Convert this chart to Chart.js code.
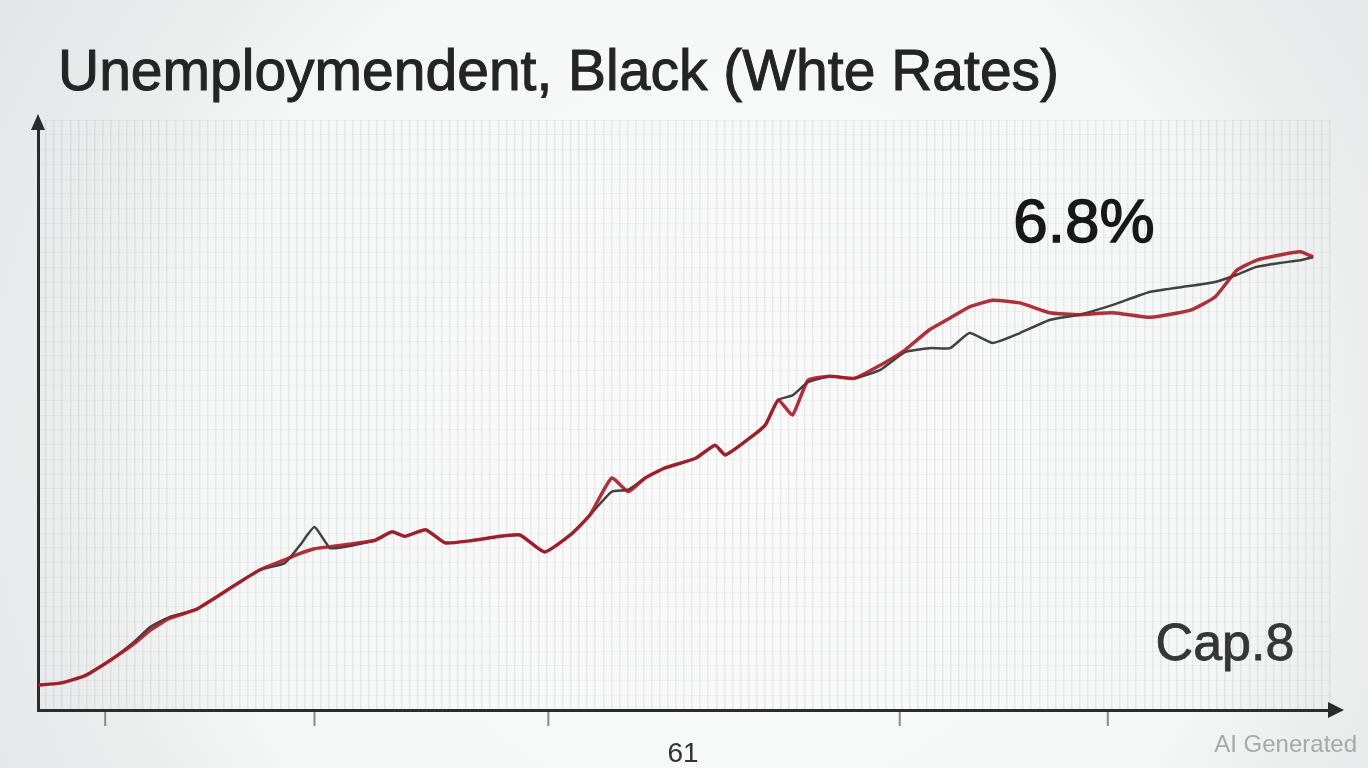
<!DOCTYPE html>
<html>
<head>
<meta charset="utf-8">
<title>Unemployment chart</title>
<script src="https://cdn.jsdelivr.net/npm/chart.js@4.4.1/dist/chart.umd.min.js"></script>
<style>
  html, body { margin: 0; padding: 0; background: #eef0f0; }
  #wrap { width: 1368px; height: 768px; position: relative; }
</style>
</head>
<body>
<div id="wrap"><canvas id="chart" width="1368" height="768"></canvas></div>
<script>
// data (x = period index, y = rate %)
const periods = [0, 1.7, 3.6, 5.6, 7.5, 8.7, 10.2, 12.2, 13.7, 15.6, 17.2, 19.1, 20.3, 21.4, 22.6,
  23.8, 26.1, 27.4, 28.4, 30.0, 31.5, 33.4, 35.4, 37.3, 39.2, 41.2, 42.7, 44.4, 45.7, 47.0,
  48.5, 50.9, 52.4, 53.2, 55.1, 56.3, 57.3, 58.4, 59.6, 61.3, 63.2, 65.2, 67.1, 69.0, 70.6,
  72.1, 73.9, 76.0, 78.3, 80.6, 83.2, 86.1, 89.2, 91.1, 92.8, 94.3, 96.1, 97.7, 98.7];

const redRates = [0.38, 0.41, 0.52, 0.76, 1.02, 1.22, 1.40, 1.53, 1.71, 1.95, 2.14, 2.29, 2.39, 2.46, 2.49,
  2.52, 2.59, 2.72, 2.65, 2.75, 2.55, 2.58, 2.64, 2.67, 2.41, 2.67, 2.97, 3.54, 3.33, 3.54,
  3.69, 3.84, 4.04, 3.89, 4.15, 4.35, 4.73, 4.50, 5.03, 5.09, 5.06, 5.26, 5.49, 5.80, 5.98,
  6.15, 6.25, 6.21, 6.06, 6.03, 6.06, 5.99, 6.10, 6.30, 6.71, 6.86, 6.94, 6.99, 6.91];

const darkRates = [0.38, 0.41, 0.52, 0.76, 1.05, 1.27, 1.42, 1.53, 1.71, 1.95, 2.14, 2.24, 2.52, 2.79, 2.47,
  2.49, 2.59, 2.72, 2.65, 2.75, 2.55, 2.58, 2.64, 2.67, 2.41, 2.67, 2.97, 3.33, 3.36, 3.54,
  3.69, 3.84, 4.04, 3.89, 4.15, 4.35, 4.73, 4.80, 5.00, 5.09, 5.06, 5.19, 5.46, 5.52, 5.52,
  5.75, 5.60, 5.75, 5.95, 6.03, 6.18, 6.38, 6.47, 6.53, 6.64, 6.76, 6.82, 6.86, 6.91];

const tickMarks = [5.2, 21.4, 39.5, 66.7, 82.8];
const titleText = 'Unemploymendent, Black (Whte Rates)';
const peakLabel = '6.8%';
const cornerLabel = 'Cap.8';
const axisLabel = '61';

const toPoints = (ys) => periods.map((x, i) => ({ x: x, y: ys[i] }));

// fill + thin outline so the text looks a bit heavier, like the original
function heavyText(ctx, text, x, y, weight) {
  ctx.fillText(text, x, y);
  ctx.lineWidth = weight;
  ctx.strokeStyle = ctx.fillStyle;
  ctx.strokeText(text, x, y);
}

// background, axes arrows and loose text
const decorations = {
  id: 'decorations',
  beforeDraw(chart) {
    const ctx = chart.ctx;
    ctx.save();
    ctx.fillStyle = '#e4e7e7';
    ctx.fillRect(0, 0, chart.width, chart.height);
    const g = ctx.createRadialGradient(720, 440, 60, 720, 440, 860);
    g.addColorStop(0, 'rgba(250,250,250,1)');
    g.addColorStop(0.6, 'rgba(245,246,246,1)');
    g.addColorStop(1, 'rgba(232,235,235,0)');
    ctx.fillStyle = g;
    ctx.fillRect(0, 0, chart.width, chart.height);
    ctx.restore();
  },
  afterDraw(chart) {
    const ctx = chart.ctx;
    const area = chart.chartArea;
    const xs = chart.scales.x;
    ctx.save();
    ctx.fillStyle = '#2b2b2b';
    ctx.strokeStyle = '#2b2b2b';
    ctx.lineWidth = 3;

    // x axis extension + arrow
    ctx.beginPath();
    ctx.moveTo(area.right, area.bottom);
    ctx.lineTo(area.right + 6, area.bottom);
    ctx.stroke();
    ctx.beginPath();
    ctx.moveTo(area.right + 14, area.bottom);
    ctx.lineTo(area.right - 2, area.bottom - 8);
    ctx.lineTo(area.right - 2, area.bottom + 8);
    ctx.closePath();
    ctx.fill();

    // y axis arrow
    ctx.beginPath();
    ctx.moveTo(area.left, area.top - 6);
    ctx.lineTo(area.left - 7, area.top + 10);
    ctx.lineTo(area.left + 7, area.top + 10);
    ctx.closePath();
    ctx.fill();

    // little tick stems under the x axis
    ctx.strokeStyle = '#8a8a8a';
    ctx.lineWidth = 2;
    tickMarks.forEach(v => {
      const px = xs.getPixelForValue(v);
      ctx.beginPath();
      ctx.moveTo(px, area.bottom + 2);
      ctx.lineTo(px, area.bottom + 16);
      ctx.stroke();
    });

    // texts
    ctx.textBaseline = 'alphabetic';
    ctx.textAlign = 'left';
    ctx.fillStyle = '#242424';
    ctx.font = '57px "Liberation Sans", Arial, sans-serif';
    heavyText(ctx, titleText, 58, 90, 1);

    ctx.textAlign = 'center';
    ctx.fillStyle = '#181818';
    ctx.font = '62px "Liberation Sans", Arial, sans-serif';
    heavyText(ctx, peakLabel, 1084, 242, 1.4);

    ctx.fillStyle = '#363636';
    ctx.font = '52px "Liberation Sans", Arial, sans-serif';
    heavyText(ctx, cornerLabel, 1225, 660, 0.8);

    ctx.fillStyle = '#333';
    ctx.font = '28px "Liberation Sans", Arial, sans-serif';
    ctx.fillText(axisLabel, 683, 762);

    ctx.fillStyle = '#a8a8a8';
    ctx.font = '24px "Liberation Sans", Arial, sans-serif';
    ctx.textAlign = 'right';
    ctx.fillText('AI Generated', 1357, 752);
    ctx.restore();
  }
};

new Chart(document.getElementById('chart'), {
  type: 'line',
  data: {
    datasets: [
      {
        label: 'Black',
        data: toPoints(redRates),
        borderColor: 'rgba(165,28,38,0.9)',
        borderWidth: 3.5,
        pointRadius: 0,
        tension: 0.15,
        fill: false,
        order: 1
      },
      {
        label: 'White',
        data: toPoints(darkRates),
        borderColor: 'rgba(45,45,45,0.9)',
        borderWidth: 2.5,
        pointRadius: 0,
        tension: 0.15,
        fill: false,
        order: 2
      }
    ]
  },
  options: {
    responsive: false,
    animation: false,
    layout: { padding: { left: 38, right: 38, top: 120, bottom: 58 } },
    plugins: {
      legend: { display: false },
      tooltip: { enabled: false }
    },
    scales: {
      x: {
        type: 'linear',
        min: 0,
        max: 100,
        ticks: { display: false, stepSize: 0.625, maxTicksLimit: 200 },
        grid: { color: 'rgba(130,130,130,0.13)', drawTicks: false, lineWidth: 1.5 },
        border: { display: true, color: '#2b2b2b', width: 3 }
      },
      y: {
        min: 0,
        max: 9,
        ticks: { display: false, stepSize: 0.225, maxTicksLimit: 100 },
        grid: { color: 'rgba(130,130,130,0.07)', drawTicks: false, lineWidth: 1 },
        border: { display: true, color: '#2b2b2b', width: 3 }
      }
    }
  },
  plugins: [decorations]
});
</script>
</body>
</html>
